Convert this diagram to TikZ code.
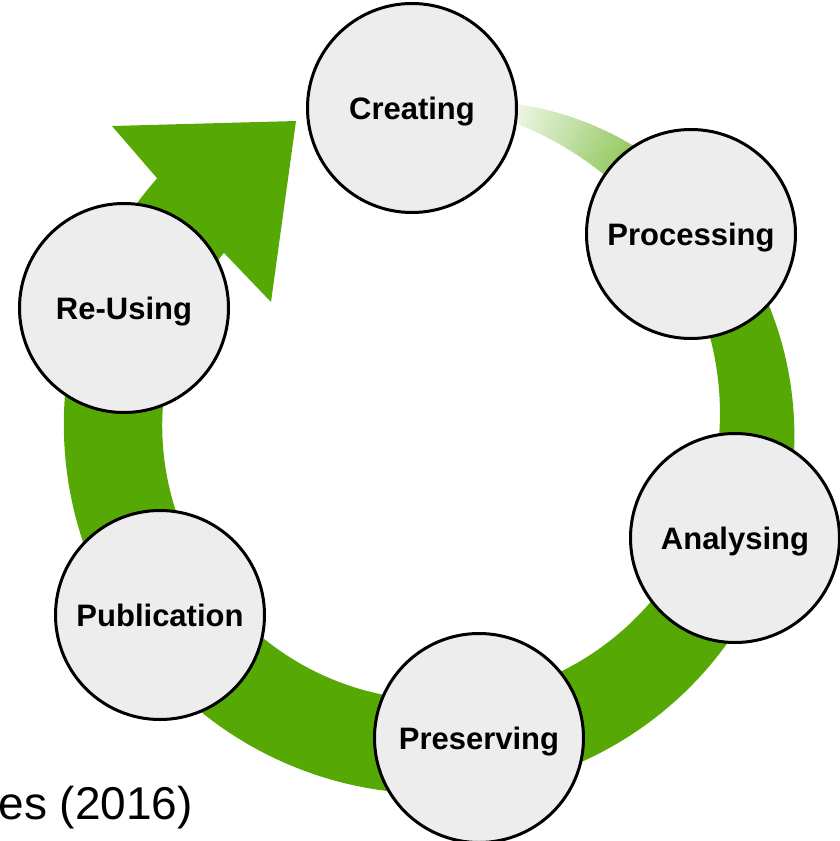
\documentclass[tikz,border=0pt]{standalone}
\usepackage{fontspec}
\setmainfont{Liberation Sans}
\definecolor{cyclegreen}{RGB}{86,169,4}
\definecolor{stagefill}{RGB}{237,237,237}
\begin{document}
\begin{tikzpicture}[x=1pt,y=-1pt,
  declare function={bw(\t)=100-90*exp(-\t/65);
    rout(\u)=322+bw(82-\u)/2; rin(\u)=322-bw(82-\u)/2;},
  stage/.style={circle, draw=black, line width=3pt, fill=stagefill,
    minimum size=209pt, inner sep=0pt,
    font=\bfseries\fontsize{31}{36}\selectfont,
    text height=22.2pt, text depth=0pt}]
\useasboundingbox (0,0) rectangle (840,841);
\clip (0,0) rectangle (840,841);

% faded beginning of the cycle band
\foreach \a in {82,81,...,36} {
  \pgfmathsetmacro\p{min(100,max(4,(80-\a)*2.5))}
  \fill[cyclegreen!\p!white]
    plot[domain=\a:\a-1.6,samples=3] ({435+rout(\x)*cos(\x)},{425-rout(\x)*sin(\x)})
    -- plot[domain=\a-1.6:\a,samples=3] ({435+rin(\x)*cos(\x)},{425-rin(\x)*sin(\x)})
    -- cycle;
}

% arrow head corners
\coordinate (barbout) at (112,126);
\coordinate (tip) at (296,121);
\coordinate (barbin) at (271,302);

% widening band with its arrow head
\fill[cyclegreen]
  plot[domain=38:-221.6,samples=160] ({435+rout(\x)*cos(\x)},{425-rout(\x)*sin(\x)})
  -- (barbout) -- (tip) -- (barbin)
  -- plot[domain=-219.2:38,samples=160] ({435+rin(\x)*cos(\x)},{425-rin(\x)*sin(\x)})
  -- cycle;

% stages of the cycle
\node[stage] (creating)    at (412,108) {Creating};
\node[stage] (processing)  at (691,234) {Processing};
\node[stage] (analysing)   at (735,538) {Analysing};
\node[stage] (preserving)  at (479,738) {Preserving};
\node[stage] (publication) at (160,615) {Publication};
\node[stage] (reusing)     at (124,308) {Re-Using};

% source line
\node[anchor=base east, inner sep=0pt, font=\fontsize{46}{55}\selectfont]
  (source) at (193,819.5) {es (2016)};
\end{tikzpicture}
\end{document}
